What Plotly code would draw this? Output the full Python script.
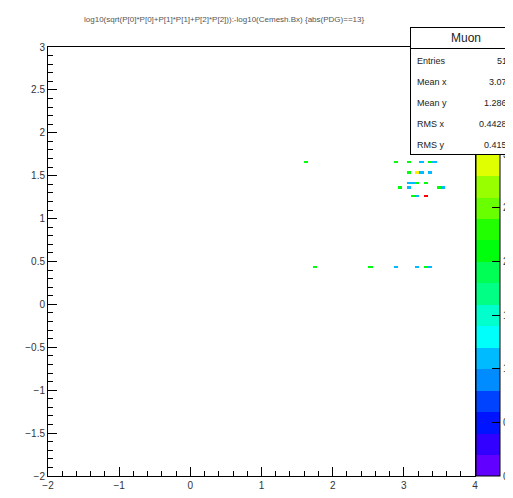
import colorsys
import numpy as np
import plotly.graph_objects as go

# bin contents (bin centres in data units)
bin_x = [1.63, 2.89, 3.07, 3.25, 3.37, 3.43,
         3.07, 3.19, 3.25, 3.37,
         3.07, 3.13, 3.19, 3.31,
         2.95, 3.07, 3.49, 3.55,
         3.13, 3.19, 3.31,
         1.75, 2.53, 2.89, 3.19, 3.31, 3.37]
bin_y = [1.6625, 1.6625, 1.6625, 1.6625, 1.6625, 1.6625,
         1.5375, 1.5375, 1.5375, 1.5375,
         1.4125, 1.4125, 1.4125, 1.4125,
         1.3625, 1.3625, 1.3625, 1.3625,
         1.2625, 1.2625, 1.2625,
         0.4375, 0.4375, 0.4375, 0.4375, 0.4375, 0.4375]
bin_counts = [2, 2, 2, 1, 2, 1,
              2, 3, 1, 1,
              1, 1, 2, 2,
              2, 1, 2, 1,
              2, 1, 4,
              2, 2, 1, 1, 2, 1]

z_ticks = [0, 0.5, 1, 1.5, 2, 2.5, 3, 3.5, 4]
stat_labels = ["Entries", "Mean x", "Mean y", "RMS x", "RMS y"]
stat_values = ["51", "3.07", "1.286", "0.4428", "0.415"]
title_text = "log10(sqrt(P[0]*P[0]+P[1]*P[1]+P[2]*P[2])):-log10(Cemesh.Bx) {abs(PDG)==13}"

# histogram binning
X_MIN, X_MAX, DX = -2.0, 4.0, 0.06
Y_MIN, Y_MAX, DY = -2.0, 3.0, 0.025
Z_MIN, Z_MAX = 0, 4
nx = int(round((X_MAX - X_MIN) / DX))
ny = int(round((Y_MAX - Y_MIN) / DY))

grid = np.full((ny, nx), None, dtype=object)
for x, y, c in zip(bin_x, bin_y, bin_counts):
    i = int(round((x - X_MIN) / DX - 0.5))
    j = int(round((y - Y_MIN) / DY - 0.5))
    grid[j, i] = c


# ROOT "pretty" palette (50 colours), 20 contour levels
def root_palette_color(idx):
    hue = 280 - (idx + 1) * (280 / 50)
    r, g, b = colorsys.hls_to_rgb(hue / 360, 0.5, 1.0)
    return f"rgb({int(r*255)},{int(g*255)},{int(b*255)})"


nlev = 20
colorscale = []
for k in range(nlev):
    col = root_palette_color(min(49, int((k + 0.99) * 50 / nlev)))
    lo = 0 if k == 0 else k / nlev - 0.001
    hi = 1 if k == nlev - 1 else (k + 1) / nlev - 0.001
    colorscale.append([lo, col])
    colorscale.append([hi, col])

# the page body has an 8px margin, so figure px = picture px - 8
OFF = 8
W, H = 513 - OFF, 498 - OFF
L, R, T, B = 48 - OFF, 475 - OFF, 47 - OFF, 476 - OFF


def px_x(px):
    return (px - OFF - L) / (R - L)


def px_y(py):
    return (B - (py - OFF)) / (B - T)


fig = go.Figure()
fig.add_trace(go.Heatmap(
    z=grid.tolist(),
    x0=X_MIN + DX / 2, dx=DX,
    y0=Y_MIN + DY / 2, dy=DY,
    zmin=Z_MIN, zmax=Z_MAX,
    colorscale=colorscale,
    hoverongaps=False,
    colorbar=dict(
        x=px_x(476), xanchor="left", y=0.5, yanchor="middle",
        len=1, lenmode="fraction", thickness=24, thicknessmode="pixels",
        xpad=0, ypad=0, outlinewidth=1, outlinecolor="black",
        ticks="inside", ticklen=8, tickcolor="black",
        tickvals=z_ticks, showticklabels=False,
    ),
))

axis_font = dict(family="Liberation Sans", size=10, color="#333")
fig.update_xaxes(
    range=[X_MIN, X_MAX], showline=True, mirror=True, linecolor="black", linewidth=1,
    ticks="inside", ticklen=9, tickcolor="black", tick0=-2, dtick=1,
    minor=dict(dtick=0.2, ticks="inside", ticklen=5, tickcolor="black"),
    showgrid=False, zeroline=False, tickfont=axis_font,
)
fig.update_yaxes(
    range=[Y_MIN, Y_MAX], showline=True, mirror=True, linecolor="black", linewidth=1,
    ticks="inside", ticklen=9, tickcolor="black", tick0=-2, dtick=0.5,
    minor=dict(dtick=0.1, ticks="inside", ticklen=5, tickcolor="black"),
    showgrid=False, zeroline=False, tickfont=axis_font,
)

annotations = [
    dict(text=title_text, x=px_x(224), y=px_y(13), xref="paper", yref="paper",
         showarrow=False, font=dict(family="Liberation Sans", size=8, color="#555")),
]
# colour-axis labels (drawn before the stats box so it covers the top ones)
for v in z_ticks:
    annotations.append(dict(text=f"{v:g}", x=px_x(501), y=(v - Z_MIN) / (Z_MAX - Z_MIN),
                            xref="paper", yref="paper", xanchor="left", yanchor="middle",
                            showarrow=False, font=axis_font))
# stats box
annotations += [
    dict(text=" ", x=px_x(410), y=px_y(27), xref="paper", yref="paper",
         xanchor="left", yanchor="top", width=110, height=126, showarrow=False,
         bgcolor="white", bordercolor="black", borderwidth=1, borderpad=0),
    dict(text="Muon", x=px_x(410), y=px_y(27), xref="paper", yref="paper",
         xanchor="left", yanchor="top", width=110, height=20, showarrow=False,
         bgcolor="white", bordercolor="black", borderwidth=1, borderpad=0,
         font=dict(family="Liberation Sans", size=12, color="#222")),
]
row_y = [61, 82, 103, 124, 145]
for lab, val, py in zip(stat_labels, stat_values, row_y):
    annotations.append(dict(text=lab, x=px_x(415), y=px_y(py), xref="paper", yref="paper",
                            xanchor="left", yanchor="middle", showarrow=False,
                            font=dict(family="Liberation Sans", size=9, color="#222")))
    annotations.append(dict(text=val, x=px_x(509), y=px_y(py), xref="paper", yref="paper",
                            xanchor="right", yanchor="middle", showarrow=False,
                            font=dict(family="Liberation Sans", size=9, color="#222")))

fig.update_layout(
    width=W, height=H,
    margin=dict(l=L, r=W - R, t=T, b=H - B, autoexpand=False),
    paper_bgcolor="white", plot_bgcolor="white",
    annotations=annotations,
    showlegend=False,
)

fig.write_html("out.html")
